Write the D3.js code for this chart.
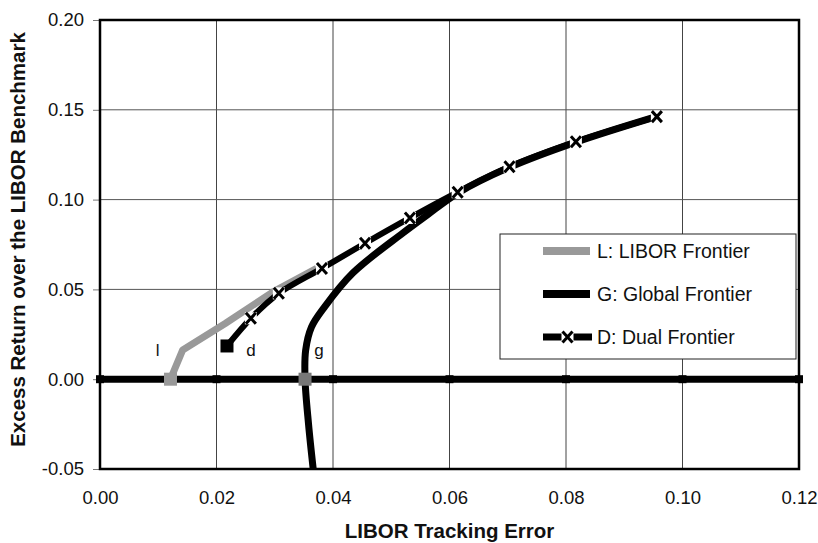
<!DOCTYPE html>
<html>
<head>
<meta charset="utf-8">
<script src="https://cdn.jsdelivr.net/npm/d3@7"></script>
<style>
  body { margin: 0; background: #fff; }
  text { font-family: "Liberation Sans", Arial, sans-serif; }
</style>
</head>
<body>
<div id="chart"></div>
<script>
// ---- data ----
var xTicks = [0, 0.02, 0.04, 0.06, 0.08, 0.10, 0.12];
var yTicks = [-0.05, 0, 0.05, 0.10, 0.15, 0.20];

// L: LIBOR frontier (gray)
var liborX = [0.0121, 0.0142, 0.0215, 0.0297, 0.0372];
var liborY = [0.0, 0.0163, 0.031, 0.0486, 0.0618];

// G: Global frontier
var globalX = [0.0366, 0.0358, 0.0352, 0.0353, 0.0363, 0.0385, 0.0434, 0.0520, 0.0562, 0.0614, 0.0703, 0.0817, 0.0955];
var globalY = [-0.05, -0.025, 0.0, 0.016, 0.029, 0.040, 0.0591, 0.0814, 0.0915, 0.1036, 0.1180, 0.1320, 0.1462];

// D: Dual frontier (first point is the square "d", the rest have X markers)
var dualX = [0.0218, 0.0259, 0.0307, 0.0381, 0.0455, 0.0532, 0.0614, 0.0703, 0.0817, 0.0956];
var dualY = [0.0185, 0.0339, 0.0478, 0.0617, 0.0757, 0.0898, 0.1041, 0.1183, 0.1322, 0.1462];

// zero benchmark line with markers
var zeroX = [0, 0.02, 0.04, 0.06, 0.08, 0.10, 0.12];

var pointLabels = [
  {t: "l", x: 0.0099, y: 0.0165},
  {t: "d", x: 0.0259, y: 0.0165},
  {t: "g", x: 0.0376, y: 0.0165}
];

var legendItems = ["L: LIBOR Frontier", "G: Global Frontier", "D: Dual Frontier"];

// ---- setup ----
var svgWidth = 818, svgHeight = 543;
var plot = {left: 100, right: 799, top: 20, bottom: 469};

var svg = d3.select("#chart").append("svg")
  .attr("width", svgWidth)
  .attr("height", svgHeight);

var x = d3.scaleLinear().domain([0, 0.12]).range([plot.left, plot.right]);
var y = d3.scaleLinear().domain([-0.05, 0.20]).range([plot.bottom, plot.top]);

var fmt = d => d.toFixed(2);

// gridlines
svg.append("g").selectAll("line.v")
  .data(xTicks).enter().append("line")
  .attr("x1", d => x(d)).attr("x2", d => x(d))
  .attr("y1", plot.top).attr("y2", plot.bottom)
  .attr("stroke", "#444").attr("stroke-width", 1);

svg.append("g").selectAll("line.h")
  .data(yTicks).enter().append("line")
  .attr("x1", plot.left).attr("x2", plot.right)
  .attr("y1", d => y(d)).attr("y2", d => y(d))
  .attr("stroke", "#555").attr("stroke-width", 1);

// left axis with short ticks
var leftAxis = d3.axisLeft(y).tickValues(yTicks).tickFormat(fmt).tickSize(7).tickPadding(9);
var gy = svg.append("g").attr("transform", `translate(${plot.left},0)`).call(leftAxis);
gy.select(".domain").remove();
gy.selectAll(".tick line").attr("stroke", "#777");
gy.selectAll("text").attr("font-size", 18.5).attr("fill", "#111")
  .attr("font-family", "Liberation Sans, Arial, sans-serif");

// bottom axis labels only
var bottomAxis = d3.axisBottom(x).tickValues(xTicks).tickFormat(fmt).tickSize(0).tickPadding(22);
var gx = svg.append("g").attr("transform", `translate(0,${plot.bottom})`).call(bottomAxis);
gx.select(".domain").remove();
gx.selectAll("text").attr("font-size", 18.5).attr("fill", "#111")
  .attr("font-family", "Liberation Sans, Arial, sans-serif");

// plot frame
svg.append("rect")
  .attr("x", plot.left).attr("y", plot.top)
  .attr("width", plot.right - plot.left).attr("height", plot.bottom - plot.top)
  .attr("fill", "none").attr("stroke", "#000").attr("stroke-width", 2.5);

// zero line
var line = d3.line().x(d => x(d[0])).y(d => y(d[1]));
svg.append("path")
  .attr("d", line(zeroX.map(v => [v, 0])))
  .attr("fill", "none").attr("stroke", "#000").attr("stroke-width", 7);
svg.selectAll("rect.zm").data(zeroX).enter().append("rect")
  .attr("x", d => x(d) - 4).attr("y", y(0) - 4)
  .attr("width", 8).attr("height", 8).attr("fill", "#000");

// L frontier
var liborPts = liborX.map((v, i) => [v, liborY[i]]);
svg.append("path")
  .attr("d", line(liborPts))
  .attr("fill", "none").attr("stroke", "#999").attr("stroke-width", 7)
  .attr("stroke-linejoin", "round");
svg.append("rect")
  .attr("x", x(liborX[0]) - 6.5).attr("y", y(liborY[0]) - 6.5)
  .attr("width", 13).attr("height", 13).attr("fill", "#999");

// G frontier
var smooth = d3.line().x(d => x(d[0])).y(d => y(d[1])).curve(d3.curveCatmullRom.alpha(0.5));
var globalPts = globalX.map((v, i) => [v, globalY[i]]);
svg.append("path")
  .attr("d", smooth(globalPts))
  .attr("fill", "none").attr("stroke", "#000").attr("stroke-width", 7);
svg.append("rect")
  .attr("x", x(0.0352) - 6.5).attr("y", y(0) - 6.5)
  .attr("width", 13).attr("height", 13).attr("fill", "#777");

// D frontier
var dualPts = dualX.map((v, i) => [v, dualY[i]]);
svg.append("path")
  .attr("d", smooth(dualPts))
  .attr("fill", "none").attr("stroke", "#000").attr("stroke-width", 6);
svg.append("rect")
  .attr("x", x(dualX[0]) - 6.5).attr("y", y(dualY[0]) - 6.5)
  .attr("width", 13).attr("height", 13).attr("fill", "#000");

function xMarker(g, cx, cy) {
  g.append("rect").attr("x", cx - 6).attr("y", cy - 6).attr("width", 12).attr("height", 12).attr("fill", "#fff");
  g.append("path")
    .attr("d", `M${cx - 5},${cy - 5.5}L${cx + 5},${cy + 5.5}M${cx - 5},${cy + 5.5}L${cx + 5},${cy - 5.5}`)
    .attr("stroke", "#000").attr("stroke-width", 3);
}
var markers = svg.append("g");
dualPts.slice(1).forEach(p => xMarker(markers, x(p[0]), y(p[1])));

// point labels l, d, g
svg.selectAll("text.pl").data(pointLabels).enter().append("text")
  .attr("x", d => x(d.x)).attr("y", d => y(d.y) + 6)
  .attr("text-anchor", "middle").attr("font-size", 17).attr("fill", "#111")
  .text(d => d.t);

// axis titles
svg.append("text")
  .attr("x", (plot.left + plot.right) / 2).attr("y", 538)
  .attr("text-anchor", "middle").attr("font-size", 20.5).attr("font-weight", "bold").attr("fill", "#111")
  .text("LIBOR Tracking Error");

svg.append("text")
  .attr("transform", `translate(25, ${(plot.top + plot.bottom) / 2 - 5}) rotate(-90)`)
  .attr("text-anchor", "middle").attr("font-size", 20.5).attr("font-weight", "bold").attr("fill", "#111")
  .text("Excess Return over the LIBOR Benchmark");

// legend
var legend = svg.append("g");
legend.append("rect")
  .attr("x", 500).attr("y", 234).attr("width", 296).attr("height", 125)
  .attr("fill", "#fff").attr("stroke", "#222").attr("stroke-width", 1);
var legY = [251, 294, 337];
legend.append("line").attr("x1", 543).attr("x2", 590).attr("y1", legY[0]).attr("y2", legY[0])
  .attr("stroke", "#999").attr("stroke-width", 8);
legend.append("line").attr("x1", 543).attr("x2", 590).attr("y1", legY[1]).attr("y2", legY[1])
  .attr("stroke", "#000").attr("stroke-width", 8);
legend.append("line").attr("x1", 543).attr("x2", 592).attr("y1", legY[2]).attr("y2", legY[2])
  .attr("stroke", "#000").attr("stroke-width", 7);
xMarker(legend, 567.5, legY[2]);
legend.selectAll("text").data(legendItems).enter().append("text")
  .attr("x", 597).attr("y", (d, i) => legY[i]).attr("dy", "0.36em")
  .attr("font-size", 19.5).attr("fill", "#111")
  .text(d => d);
</script>
</body>
</html>
